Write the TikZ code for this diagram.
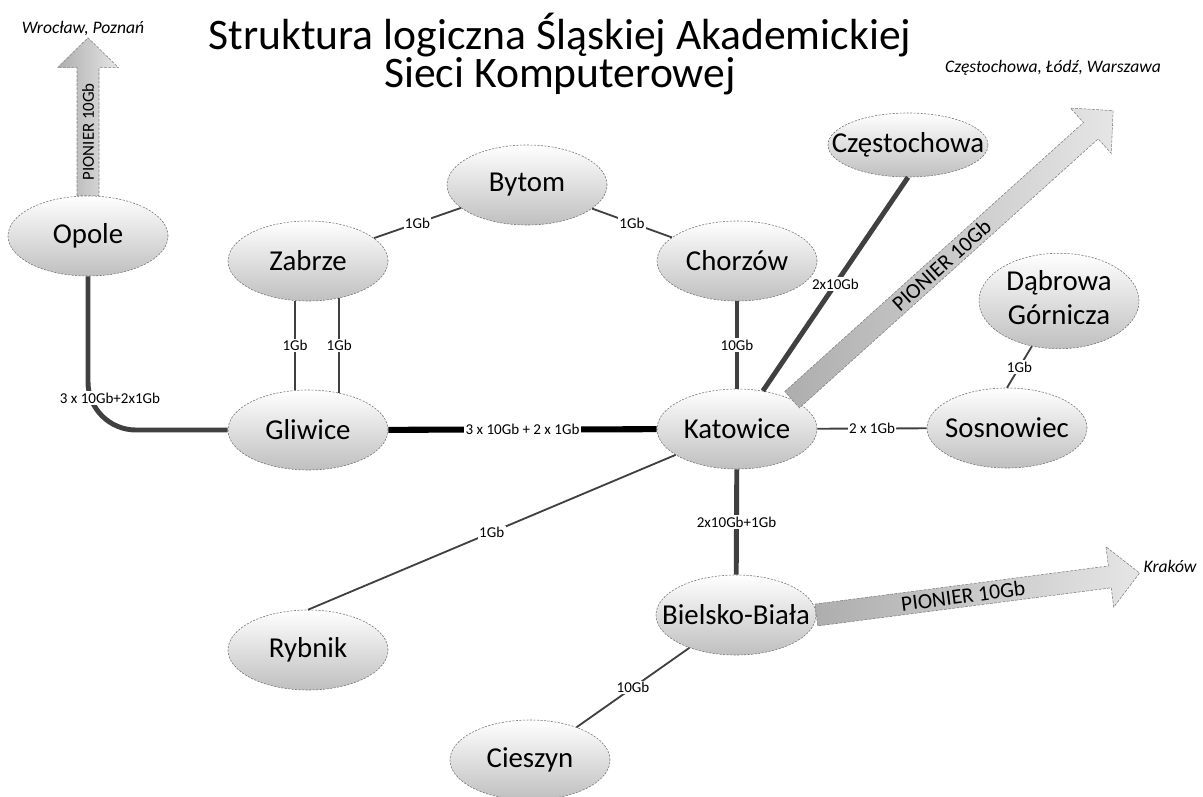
\documentclass[tikz,border=0pt]{standalone}
\usepackage{fontspec}
\setmainfont{Carlito}
\usetikzlibrary{shapes.geometric}

\tikzset{
  city/.style={ellipse, inner sep=0pt, minimum width=4cm, minimum height=2cm,
    top color=white, bottom color=black!25, draw=black!55,
    dash pattern=on 1.5pt off 1pt, line width=0.4pt,
    font=\fontsize{20.5}{24}\selectfont},
  link/.style={draw=black!75, line width=1.3pt},
  trunk/.style={draw=black!75, line width=3.5pt},
  backbone/.style={draw=black, line width=4.3pt},
  lbl/.style={fill=white, inner sep=1pt, font=\fontsize{10.7}{12}\selectfont},
  dest/.style={font=\fontsize{12.5}{14}\itshape},
  pionier/.style={draw=black!50, dash pattern=on 2pt off 1pt, line width=0.4pt,
    left color=black!32, right color=black!10},
  pioniertext/.style={inner sep=0pt},
}
\newcommand{\cname}[1]{\makebox[0pt]{#1}}

\begin{document}
\begin{tikzpicture}[x=0.025cm, y=-0.025cm]
  \useasboundingbox (0,0) rectangle (1203,796);

  % title
  \node[font=\fontsize{31}{27}\selectfont, align=center] (title) at (560,54)
    {Struktura logiczna Śląskiej Akademickiej\\Sieci Komputerowej};

  % cities
  \node[city] (opole) at (88,236) {\cname{Opole}};
  \node[city] (zabrze) at (308,261) {\cname{Zabrze}};
  \node[city] (bytom) at (527,185) {\cname{Bytom}};
  \node[city] (chorzow) at (737,261) {\cname{Chorzów}};
  \node[city, minimum height=1.6cm] (czestochowa) at (908,145) {\cname{Częstochowa}};
  \node[city] (dabrowa) at (1059,301)
    {\cname{\begin{tabular}{@{}c@{}}Dąbrowa\\Górnicza\end{tabular}}};
  \node[city] (gliwice) at (308,430) {\cname{Gliwice}};
  \node[city] (katowice) at (737,429) {\cname{Katowice}};
  \node[city] (sosnowiec) at (1007,428) {\cname{Sosnowiec}};
  \node[city] (rybnik) at (308,650) {\cname{Rybnik}};
  \node[city] (bielsko) at (736,615) {\cname{Bielsko-Biała}};
  \node[city] (cieszyn) at (530,760) {\cname{Cieszyn}};

  % links
  \draw[link] (zabrze) -- node[lbl] {1Gb} (bytom);
  \draw[link] (bytom) -- node[lbl] {1Gb} (chorzow);
  \draw[link] (zabrze.252) -- node[lbl] {1Gb} (gliwice.108);
  \draw[link] (zabrze.310) -- node[lbl] {1Gb} (gliwice.50);
  \draw[trunk] (chorzow) -- node[lbl] {10Gb} (katowice);
  \draw[trunk] (czestochowa.south) -- node[lbl] {2x10Gb} (katowice);
  \draw[backbone] (gliwice) -- node[lbl] {3 x 10Gb + 2 x 1Gb} (katowice);
  \draw[link] (katowice) -- node[lbl] {2 x 1Gb} (sosnowiec);
  \draw[link] (dabrowa) -- node[lbl] {1Gb} (sosnowiec.north);
  \draw[link] (rybnik.north) -- node[lbl] {1Gb} (katowice);
  \draw[trunk] (katowice) -- node[lbl] {2x10Gb+1Gb} (bielsko);
  \draw[link] (cieszyn) -- node[lbl] {10Gb} (bielsko);
  \draw[trunk, rounded corners=1.2cm] (opole) |- (gliwice);
  \node[lbl] (opolelink) at (110,398) {3 x 10Gb+2x1Gb};

  % PIONIER uplinks
  \foreach \from/\ang/\len/\fs in {opole.north/90/158/12, katowice.28/42/432/15.4,
                                   bielsko.east/7.4/326/15.4}
    \path[pionier, shift={(\from)}, rotate=\ang]
      (0,-11) -- ({\len-30},-11) -- ({\len-30},-30.5) -- (\len,0)
      -- ({\len-30},30.5) -- ({\len-30},11) -- (0,11) -- cycle
      ({(\len-30)/2},0) node[pioniertext, rotate=\ang,
        font=\fontsize{\fs}{17}\selectfont] {PIONIER 10Gb};

  \node[dest] (wroclaw) at (83,29) {Wrocław, Poznań};
  \node[dest] (warszawa) at (1053,68) {Częstochowa, Łódź, Warszawa};
  \node[dest] (krakow) at (1170,566) {Kraków};
\end{tikzpicture}
\end{document}
